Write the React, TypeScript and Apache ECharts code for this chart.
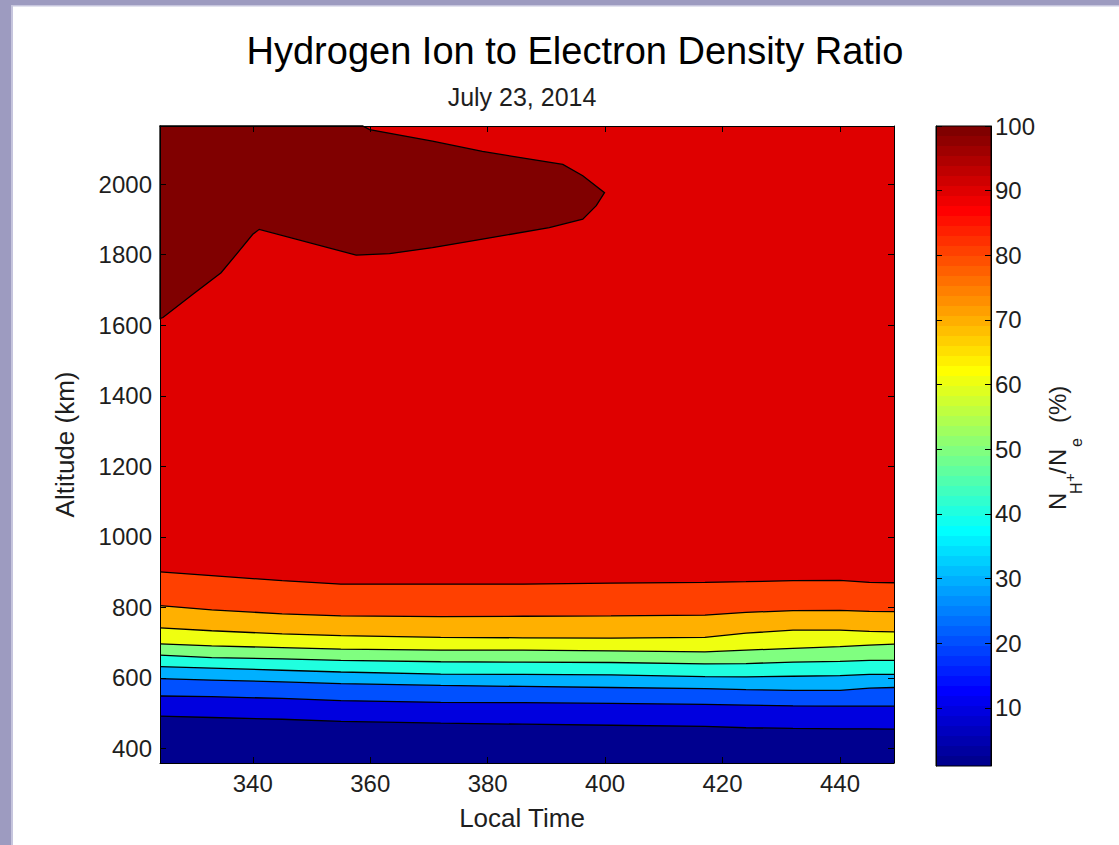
import React, { useEffect, useRef } from "react";
import * as echarts from "echarts";

// ---------- texts ----------
const TITLE = "Hydrogen Ion to Electron Density Ratio";
const SUBTITLE = "July 23, 2014";
const X_NAME = "Local Time";
const Y_NAME = "Altitude (km)";

// ---------- axes ----------
const X_RANGE = [324.2, 449.2];
const Y_RANGE = [359, 2165];
const X_TICKS = [340, 360, 380, 400, 420, 440];
const Y_TICKS = [400, 600, 800, 1000, 1200, 1400, 1600, 1800, 2000];
const CBAR_RANGE = [1, 100];
const CBAR_TICKS = [10, 20, 30, 40, 50, 60, 70, 80, 90, 100];

// ---------- contour levels (%) ----------
const LEVELS = [10, 20, 30, 40, 50, 60, 70, 80, 90];
// fill colour of each band (below 10, 10-20, ..., 80-90, 90-99, above 99)
const BAND_COLORS = [
  "#00008f", "#0000df", "#0050ff", "#00b0ff", "#20ffdf", "#80ff80",
  "#efff10", "#ffb000", "#ff4000", "#df0000", "#800000",
];

// contour line samples: local time -> altitude (km) of each level
const LINE_TIME = [324.2, 333, 345, 355, 372, 386, 401, 417, 424, 432, 440, 445, 449.2];
const ALT_10 = [492, 488, 483, 477, 472, 469, 466, 463, 459, 457, 456, 456, 455];
const ALT_20 = [549, 547, 542, 536, 531, 530, 528, 525, 523, 521, 520, 520, 520];
const ALT_30 = [598, 594, 589, 584, 579, 576, 573, 570, 567, 565, 565, 571, 573];
const ALT_40 = [632, 628, 622, 617, 611, 610, 609, 604, 603, 605, 607, 610, 610];
const ALT_50 = [665, 658, 654, 650, 646, 645, 644, 640, 641, 645, 647, 650, 650];
const ALT_60 = [697, 691, 686, 682, 679, 679, 677, 674, 679, 684, 689, 693, 696];
const ALT_70 = [742, 734, 725, 720, 715, 714, 713, 715, 727, 736, 736, 732, 731];
const ALT_80 = [805, 793, 782, 776, 774, 775, 776, 778, 786, 791, 792, 789, 788];
const ALT_90 = [901, 890, 876, 866, 866, 866, 869, 871, 873, 876, 877, 871, 870];
const LEVEL_ALTS = [ALT_10, ALT_20, ALT_30, ALT_40, ALT_50, ALT_60, ALT_70, ALT_80, ALT_90];

// closed top-level region (upper left)
const PEAK_TIME = [324.2, 324.2, 358.7, 359.9, 370.6, 379.1, 392.8, 396.2, 399.9, 398.5, 396.2, 390.5, 379.1, 370.6, 363.3, 357.6, 341.1, 340.0, 337.2, 334.6, 329.8, 324.7];
const PEAK_ALT = [1619, 2165, 2165, 2155, 2122, 2093, 2056, 2024, 1976, 1939, 1901, 1877, 1844, 1820, 1803, 1799, 1872, 1858, 1801, 1749, 1688, 1622];

const FONT = "'Liberation Sans', Arial, Helvetica, sans-serif";

// MATLAB jet(64) colormap
function jet64(): string[] {
  const n = 16;
  const u: number[] = [];
  for (let k = 1; k <= n; k++) u.push(k / n);
  for (let k = 0; k < n - 1; k++) u.push(1);
  for (let k = n; k >= 1; k--) u.push(k / n);
  const out: string[] = [];
  const h = (v: number) => Math.round(v * 255).toString(16).padStart(2, "0");
  for (let i = 1; i <= 64; i++) {
    const r = i >= 25 ? u[i - 25] : 0;
    const g = i >= 9 && i <= 55 ? u[i - 9] : 0;
    const b = i <= 39 ? u[i + 7] : 0;
    out.push("#" + h(r) + h(g) + h(b));
  }
  return out;
}

export default function App() {
  const ref = useRef<HTMLDivElement>(null);

  useEffect(() => {
    document.body.style.margin = "0";
    const chart = echarts.init(ref.current!, null, { renderer: "svg" });
    const jet = jet64();
    const stops: any[] = [];
    jet.forEach((c, k) => {
      stops.push({ offset: k / 64, color: c });
      stops.push({ offset: (k + 1) / 64, color: c });
    });

    const series: any[] = [];
    // contour areas, highest level first so lower bands paint over
    for (let k = LEVELS.length - 1; k >= 0; k--) {
      series.push({
        type: "line",
        name: "level " + LEVELS[k],
        xAxisIndex: 0,
        yAxisIndex: 0,
        data: LINE_TIME.map((t, i) => [t, LEVEL_ALTS[k][i]]),
        symbol: "none",
        silent: true,
        lineStyle: { color: "#000", width: 1.3 },
        areaStyle: { color: BAND_COLORS[k], opacity: 1, origin: "start" },
        z: 2,
      });
    }
    // upper-left maximum region
    series.push({
      type: "custom",
      name: "peak",
      xAxisIndex: 0,
      yAxisIndex: 0,
      silent: true,
      z: 3,
      data: PEAK_TIME.map((t, i) => [t, PEAK_ALT[i]]),
      renderItem: (params: any, api: any) => {
        if (params.dataIndex !== 0) return null;
        const pts = PEAK_TIME.map((t, i) => api.coord([t, PEAK_ALT[i]]));
        return {
          type: "polygon",
          shape: { points: pts },
          style: { fill: BAND_COLORS[10], stroke: "#000", lineWidth: 1.3 },
        };
      },
    });
    // colour bar
    series.push({
      type: "custom",
      name: "colorbar",
      xAxisIndex: 2,
      yAxisIndex: 2,
      silent: true,
      z: 2,
      data: [[0, CBAR_RANGE[0]], [1, CBAR_RANGE[1]]],
      renderItem: (params: any, api: any) => {
        if (params.dataIndex !== 0) return null;
        const p0 = api.coord([0, CBAR_RANGE[0]]);
        const p1 = api.coord([1, CBAR_RANGE[1]]);
        return {
          type: "rect",
          shape: { x: p0[0], y: p1[1], width: p1[0] - p0[0], height: p0[1] - p1[1] },
          style: {
            fill: new echarts.graphic.LinearGradient(0, 1, 0, 0, stops),
            stroke: "#000",
            lineWidth: 1,
          },
        };
      },
    });

    const tickStyle = { color: "#000", width: 1 };
    const labelBase = { fontFamily: FONT, color: "#1e1e1e", fontSize: 24 };
    const plain = (v: number) => String(v);

    const option: any = {
      animation: false,
      backgroundColor: "#ffffff",
      grid: [
        { left: 160, top: 126, width: 734, height: 637, show: true, backgroundColor: BAND_COLORS[9], borderWidth: 0 },
        { left: 936, top: 126, width: 55, height: 640, show: false },
      ],
      xAxis: [
        {
          gridIndex: 0, type: "value", min: X_RANGE[0], max: X_RANGE[1], position: "bottom", z: 10,
          axisLine: { show: true, onZero: false, lineStyle: tickStyle },
          axisTick: { show: true, inside: true, length: 6, customValues: X_TICKS, lineStyle: tickStyle },
          axisLabel: { show: true, customValues: X_TICKS, margin: 8, formatter: plain, ...labelBase },
          splitLine: { show: false },
          name: X_NAME, nameLocation: "middle", nameGap: 42,
          nameTextStyle: { ...labelBase, fontSize: 26, padding: [0, 10, 0, 0] },
        },
        {
          gridIndex: 0, type: "value", min: X_RANGE[0], max: X_RANGE[1], position: "top", z: 10,
          axisLine: { show: true, onZero: false, lineStyle: tickStyle },
          axisTick: { show: true, inside: true, length: 6, customValues: X_TICKS, lineStyle: tickStyle },
          axisLabel: { show: false },
          splitLine: { show: false },
        },
        { gridIndex: 1, type: "value", min: 0, max: 1, show: false },
      ],
      yAxis: [
        {
          gridIndex: 0, type: "value", min: Y_RANGE[0], max: Y_RANGE[1], position: "left", z: 10,
          axisLine: { show: true, onZero: false, lineStyle: tickStyle },
          axisTick: { show: true, inside: true, length: 6, customValues: Y_TICKS, lineStyle: tickStyle },
          axisLabel: { show: true, customValues: Y_TICKS, margin: 8, formatter: plain, ...labelBase },
          splitLine: { show: false },
          name: Y_NAME, nameLocation: "middle", nameGap: 82, nameRotate: 90,
          nameTextStyle: { ...labelBase, fontSize: 26 },
        },
        {
          gridIndex: 0, type: "value", min: Y_RANGE[0], max: Y_RANGE[1], position: "right", z: 10,
          axisLine: { show: true, onZero: false, lineStyle: tickStyle },
          axisTick: { show: true, inside: true, length: 6, customValues: Y_TICKS, lineStyle: tickStyle },
          axisLabel: { show: false },
          splitLine: { show: false },
        },
        {
          gridIndex: 1, type: "value", min: CBAR_RANGE[0], max: CBAR_RANGE[1], position: "right", z: 10,
          axisLine: { show: true, onZero: false, lineStyle: tickStyle },
          axisTick: { show: true, inside: true, length: 6, customValues: CBAR_TICKS, lineStyle: tickStyle },
          axisLabel: { show: true, customValues: CBAR_TICKS, margin: 4, formatter: plain, ...labelBase },
          splitLine: { show: false },
        },
        {
          gridIndex: 1, type: "value", min: CBAR_RANGE[0], max: CBAR_RANGE[1], position: "left", z: 10,
          axisLine: { show: true, onZero: false, lineStyle: tickStyle },
          axisTick: { show: true, inside: true, length: 6, customValues: CBAR_TICKS, lineStyle: tickStyle },
          axisLabel: { show: false },
          splitLine: { show: false },
        },
      ],
      graphic: [
        // window frame
        { type: "rect", shape: { x: 0, y: 0, width: 11, height: 845 }, style: { fill: "#9d9bc0" }, silent: true },
        { type: "rect", shape: { x: 11, y: 5, width: 2, height: 840 }, style: { fill: "#c6c5dd" }, silent: true },
        { type: "rect", shape: { x: 0, y: 0, width: 1119, height: 5 }, style: { fill: "#9d9bc0" }, silent: true },
        { type: "rect", shape: { x: 11, y: 5, width: 1108, height: 1.5 }, style: { fill: "#c6c5dd" }, silent: true },
        {
          type: "text", x: 575, y: 51,
          style: { text: TITLE, fontFamily: FONT, fontSize: 38, fill: "#000", align: "center", verticalAlign: "middle" },
        },
        {
          type: "text", x: 522, y: 97,
          style: { text: SUBTITLE, fontFamily: FONT, fontSize: 25, fill: "#1e1e1e", align: "center", verticalAlign: "middle" },
        },
        {
          type: "group", x: 1066, y: 512, rotation: Math.PI / 2,
          children: [
            { type: "text", x: 2, y: -9, style: { text: "N", fontFamily: FONT, fontSize: 24, fill: "#1e1e1e", verticalAlign: "middle" } },
            { type: "text", x: 18, y: 10, style: { text: "H", fontFamily: FONT, fontSize: 16, fill: "#1e1e1e", verticalAlign: "middle" } },
            { type: "text", x: 30, y: 3, style: { text: "+", fontFamily: FONT, fontSize: 15, fill: "#1e1e1e", verticalAlign: "middle" } },
            { type: "text", x: 38, y: -9, style: { text: "/", fontFamily: FONT, fontSize: 24, fill: "#1e1e1e", verticalAlign: "middle" } },
            { type: "text", x: 46, y: -9, style: { text: "N", fontFamily: FONT, fontSize: 24, fill: "#1e1e1e", verticalAlign: "middle" } },
            { type: "text", x: 65, y: 10, style: { text: "e", fontFamily: FONT, fontSize: 16, fill: "#1e1e1e", verticalAlign: "middle" } },
            { type: "text", x: 89, y: -9, style: { text: "(%)", fontFamily: FONT, fontSize: 24, fill: "#1e1e1e", verticalAlign: "middle" } },
          ],
        },
      ],
      series,
    };

    chart.setOption(option);
    return () => chart.dispose();
  }, []);

  return <div ref={ref} style={{ position: "fixed", left: 0, top: 0, width: 1119, height: 845 }} />;
}
